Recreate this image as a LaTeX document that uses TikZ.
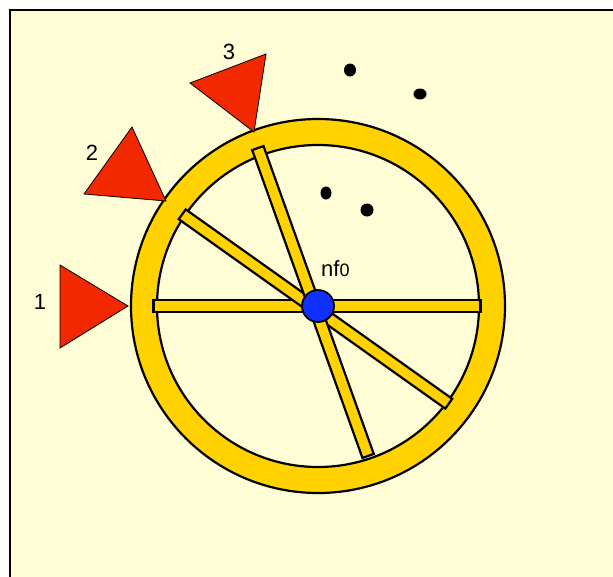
\documentclass[tikz,border=0pt]{standalone}
\usepackage{fontspec}
\setmainfont{Liberation Sans}
\definecolor{bgyellow}{RGB}{255,253,213}
\definecolor{gold}{RGB}{255,210,0}
\definecolor{tri}{RGB}{242,40,0}
\definecolor{hubblue}{RGB}{16,48,255}
\tikzset{
  spokebox/.style={draw=black, line width=2.2pt, fill=gold, rectangle, minimum width=327pt, minimum height=12pt, inner sep=0pt},
  hubnode/.style={draw=black, line width=1.8pt, fill=hubblue, circle, minimum size=32pt, inner sep=0pt},
  trishape/.style={fill=tri, draw=black, line width=0.8pt, line join=miter},
  numlabel/.style={font=\fontsize{22}{26}\selectfont, inner sep=0pt},
  dotshape/.style={fill=black}
}
\begin{document}
\begin{tikzpicture}[x=1pt,y=-1pt]
\useasboundingbox (0,0) rectangle (613,576);
\clip (0,0) rectangle (613,576);
\fill[white] (0,0) rectangle (613,576);
% frame
\draw[line width=2pt, fill=bgyellow] (9.5,10) rectangle (640,600);
% ring
\draw[line width=2.2pt, fill=gold, even odd rule] (318,306) circle (187pt) (318,306) circle (161pt);
% spokes
\node[spokebox] (spokeH) at (317,306) {};
\node[spokebox, rotate=-35.4] (spokeD) at (315.5,309) {};
\node[spokebox, rotate=-70.3] (spokeS) at (313,302) {};
% hub
\node[hubnode] (hub) at (318,306) {};
\node[font=\fontsize{22}{26}\selectfont, anchor=base west, inner sep=0pt] (hublabel) at (321,276) {nf{\fontsize{18}{20}\selectfont 0}};
% triangles
\draw[trishape] (60,265) -- (60,348) -- (128,306) -- cycle;
\draw[trishape] (132,127) -- (84,194) -- (166,201) -- cycle;
\draw[trishape] (190,83) -- (266,54) -- (254,132) -- cycle;
\node[numlabel] (lab1) at (40,302) {1};
\node[numlabel] (lab2) at (92,153) {2};
\node[numlabel] (lab3) at (229,52) {3};
% dots
\fill[dotshape] (350,70) ellipse (6pt and 6.5pt);
\fill[dotshape] (420,94) ellipse (6.5pt and 5.5pt);
\fill[dotshape] (326,193) ellipse (5.5pt and 6.5pt);
\fill[dotshape] (367,210) ellipse (6.5pt and 6.5pt);
\end{tikzpicture}
\end{document}
